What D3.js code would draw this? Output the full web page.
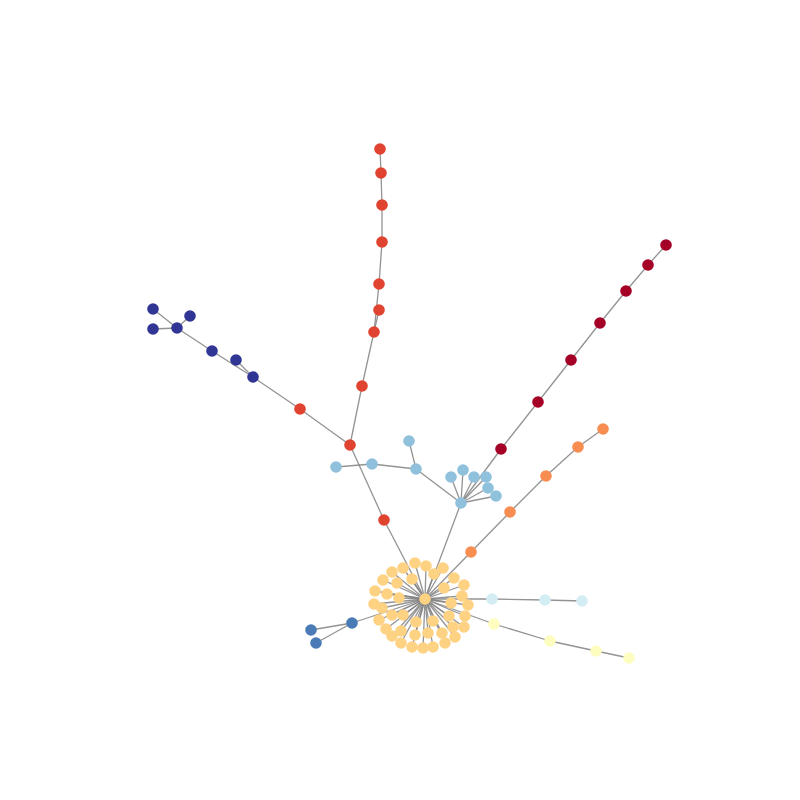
<!DOCTYPE html>
<html>
<head>
<meta charset="utf-8">
<title>Network</title>
<script src="https://cdn.jsdelivr.net/npm/d3@7"></script>
<style>
  body { margin: 0; background: #fff; }
</style>
</head>
<body>
<div id="chart"></div>
<script>
// layout positions (layout units), one group per community
var groups = ["g0", "g1", "g2", "g3", "g4", "g5", "g6", "g7", "g8"];
var groupColors = ["#a50026", "#e04330", "#f88d51", "#fed283", "#fefdc0",
                   "#d4edf5", "#8fc0dc", "#4a7bb7", "#313695"];

// nodes: [id, x, y, group]
var nodes = [
  // hub cluster
  ["c0", 425, 599, "g3"],
  ["c1", 415, 563, "g3"], ["c2", 403, 568, "g3"], ["c3", 392, 572, "g3"],
  ["c4", 426, 566, "g3"], ["c5", 443, 568, "g3"], ["c6", 434, 574, "g3"],
  ["c7", 383, 580, "g3"], ["c8", 397, 583, "g3"], ["c9", 412, 579, "g3"],
  ["c10", 454, 578, "g3"], ["c11", 464, 585, "g3"], ["c12", 375, 591, "g3"],
  ["c13", 387, 594, "g3"], ["c14", 444, 588, "g3"], ["c15", 462, 596, "g3"],
  ["c16", 399, 598, "g3"], ["c17", 374, 604, "g3"], ["c18", 451, 603, "g3"],
  ["c19", 468, 605, "g3"], ["c20", 382, 608, "g3"], ["c21", 392, 615, "g3"],
  ["c22", 403, 615, "g3"], ["c23", 416, 622, "g3"], ["c24", 433, 621, "g3"],
  ["c25", 449, 616, "g3"], ["c26", 465, 616, "g3"], ["c27", 379, 620, "g3"],
  ["c28", 386, 629, "g3"], ["c29", 401, 631, "g3"], ["c30", 415, 635, "g3"],
  ["c31", 428, 633, "g3"], ["c32", 442, 633, "g3"], ["c33", 453, 627, "g3"],
  ["c34", 464, 627, "g3"], ["c35", 392, 636, "g3"], ["c36", 401, 643, "g3"],
  ["c37", 412, 647, "g3"], ["c38", 423, 648, "g3"], ["c39", 433, 647, "g3"],
  ["c40", 445, 643, "g3"], ["c41", 455, 637, "g3"],
  // red branch
  ["r0", 384, 520, "g1"], ["r1", 350, 445, "g1"], ["r2", 362, 386, "g1"],
  ["r3", 374, 332, "g1"], ["r4", 379, 310, "g1"], ["r5", 379, 284, "g1"],
  ["r6", 382, 242, "g1"], ["r7", 382, 205, "g1"], ["r8", 381, 173, "g1"],
  ["r9", 380, 149, "g1"], ["r10", 300, 409, "g1"],
  // navy branch
  ["n0", 253, 377, "g8"], ["n1", 236, 360, "g8"], ["n2", 212, 351, "g8"],
  ["n3", 177, 328, "g8"], ["n4", 190, 316, "g8"], ["n5", 153, 309, "g8"],
  ["n6", 153, 329, "g8"],
  // light blue branch
  ["b0", 461, 503, "g6"], ["b1", 416, 469, "g6"], ["b2", 409, 441, "g6"],
  ["b3", 372, 464, "g6"], ["b4", 336, 467, "g6"], ["b5", 451, 477, "g6"],
  ["b6", 463, 470, "g6"], ["b7", 474, 477, "g6"], ["b8", 486, 477, "g6"],
  ["b9", 488, 488, "g6"], ["b10", 496, 496, "g6"],
  // dark red branch
  ["d0", 501, 449, "g0"], ["d1", 538, 402, "g0"], ["d2", 571, 360, "g0"],
  ["d3", 600, 323, "g0"], ["d4", 626, 291, "g0"], ["d5", 648, 265, "g0"],
  ["d6", 666, 245, "g0"],
  // orange branch
  ["o0", 471, 552, "g2"], ["o1", 510, 512, "g2"], ["o2", 546, 476, "g2"],
  ["o3", 578, 447, "g2"], ["o4", 603, 429, "g2"],
  // light cyan branch
  ["l0", 492, 599, "g5"], ["l1", 545, 600, "g5"], ["l2", 582, 601, "g5"],
  // light yellow branch
  ["y0", 494, 624, "g4"], ["y1", 550, 641, "g4"], ["y2", 596, 651, "g4"],
  ["y3", 629, 658, "g4"],
  // steel blue branch
  ["s0", 352, 623, "g7"], ["s1", 311, 630, "g7"], ["s2", 316, 643, "g7"]
];

var links = [
  ["c0", "r0"], ["r0", "r1"], ["r1", "r2"], ["r2", "r3"], ["r3", "r4"],
  ["r3", "r5"], ["r5", "r6"], ["r6", "r7"], ["r7", "r8"], ["r8", "r9"],
  ["r1", "r10"], ["r10", "n0"], ["n0", "n1"], ["n0", "n2"], ["n2", "n3"],
  ["n3", "n4"], ["n3", "n5"], ["n3", "n6"],
  ["c0", "b0"], ["b0", "b1"], ["b1", "b2"], ["b1", "b3"], ["b3", "b4"],
  ["b0", "b5"], ["b0", "b6"], ["b0", "b7"], ["b0", "b8"], ["b0", "b9"], ["b0", "b10"],
  ["b0", "d0"], ["d0", "d1"], ["d1", "d2"], ["d2", "d3"], ["d3", "d4"],
  ["d4", "d5"], ["d5", "d6"],
  ["c0", "o0"], ["o0", "o1"], ["o1", "o2"], ["o2", "o3"], ["o3", "o4"],
  ["c0", "l0"], ["l0", "l1"], ["l1", "l2"],
  ["c0", "y0"], ["y0", "y1"], ["y1", "y2"], ["y2", "y3"],
  ["c0", "s0"], ["s0", "s1"], ["s0", "s2"]
];
// every cluster leaf hangs off the hub
for (var i = 1; i <= 41; i++) links.push(["c0", "c" + i]);

var width = 800, height = 800;
var x = d3.scaleLinear().domain([0, 800]).range([0, width]);
var y = d3.scaleLinear().domain([0, 800]).range([0, height]);
var color = d3.scaleOrdinal().domain(groups).range(groupColors);

var byId = {};
nodes.forEach(function(d) { byId[d[0]] = d; });

var svg = d3.select("#chart").append("svg")
  .attr("width", width)
  .attr("height", height);

svg.append("g").selectAll("line").data(links).enter().append("line")
  .attr("x1", function(d) { return x(byId[d[0]][1]); })
  .attr("y1", function(d) { return y(byId[d[0]][2]); })
  .attr("x2", function(d) { return x(byId[d[1]][1]); })
  .attr("y2", function(d) { return y(byId[d[1]][2]); })
  .style("stroke", "#808080")
  .style("stroke-opacity", 0.85)
  .style("stroke-width", 1.3);

svg.append("g").selectAll("circle").data(nodes).enter().append("circle")
  .attr("cx", function(d) { return x(d[1]); })
  .attr("cy", function(d) { return y(d[2]); })
  .attr("r", 5.8)
  .style("fill", function(d) { return color(d[3]); });
</script>
</body>
</html>
